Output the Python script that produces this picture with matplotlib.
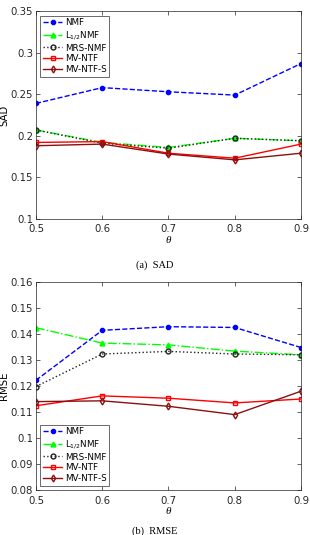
import matplotlib
matplotlib.use('Agg')
import matplotlib.pyplot as plt

# data
theta = [0.5, 0.6, 0.7, 0.8, 0.9]

sad_nmf = [0.239, 0.258, 0.253, 0.249, 0.287]
sad_l12 = [0.207, 0.192, 0.186, 0.197, 0.194]
sad_mrs = [0.207, 0.191, 0.185, 0.197, 0.194]
sad_mvntf = [0.192, 0.193, 0.179, 0.173, 0.190]
sad_mvntfs = [0.188, 0.190, 0.178, 0.171, 0.179]

rmse_nmf = [0.1222, 0.1414, 0.1428, 0.1425, 0.1348]
rmse_l12 = [0.1424, 0.1365, 0.1358, 0.1334, 0.1320]
rmse_mrs = [0.1198, 0.1323, 0.1333, 0.1323, 0.1320]
rmse_mvntf = [0.1124, 0.1162, 0.1153, 0.1135, 0.1150]
rmse_mvntfs = [0.1140, 0.1143, 0.1122, 0.1090, 0.1180]

labels = ['NMF', r'L$_{1/2}$NMF', 'MRS-NMF', 'MV-NTF', 'MV-NTF-S']
styles = [
    dict(color='#0000ff', ls='--', marker='.', ms=6),
    dict(color='#00ff00', ls='-.', marker='^', ms=3.5),
    dict(color='#222222', ls=':', marker='o', ms=3.5, mfc='none'),
    dict(color='#ff0000', ls='-', marker='s', ms=3, mfc='none'),
    dict(color='#8b1010', ls='-', marker='d', ms=3.5, mfc='none'),
]

plt.rcParams['font.family'] = ['DejaVu Sans']
plt.rcParams['mathtext.fontset'] = 'dejavusans'

fig = plt.figure(figsize=(3.1, 5.35), dpi=100)
ax1 = fig.add_axes([0.116, 0.591, 0.855, 0.388])
ax2 = fig.add_axes([0.116, 0.084, 0.855, 0.389])


def draw(ax, series, ylim, yticks, ylabel, legend_loc):
    for ys, lab, st in zip(series, labels, styles):
        ax.plot(theta, ys, label=lab, lw=1.0, **st)
    ax.set_xlim(0.5, 0.9)
    ax.set_ylim(*ylim)
    ax.set_xticks(theta)
    ax.set_xticklabels(['0.5', '0.6', '0.7', '0.8', '0.9'])
    ax.set_yticks(yticks)
    ax.set_yticklabels([('%g' % v) for v in yticks])
    ax.tick_params(direction='in', top=True, right=True, labelsize=7.3,
                   length=3, width=0.5, colors='#262626')
    ax.tick_params(axis='x', pad=4)
    ax.tick_params(axis='y', pad=2)
    for s in ax.spines.values():
        s.set_linewidth(0.5)
        s.set_color('#262626')
    ax.set_ylabel(ylabel, fontsize=7.3)
    ax.yaxis.set_label_coords(-0.102, 0.5)
    ax.set_xlabel('θ', fontsize=8, labelpad=1,
                  fontstyle='italic', family='Liberation Serif')
    leg = ax.legend(loc=legend_loc, fontsize=6.3, frameon=True, fancybox=False,
                    edgecolor='#262626', handlelength=2.2, handletextpad=0.3,
                    borderpad=0.3, labelspacing=0.2, borderaxespad=0.5)
    leg.get_frame().set_linewidth(0.6)


draw(ax1, [sad_nmf, sad_l12, sad_mrs, sad_mvntf, sad_mvntfs],
     (0.1, 0.35), [0.1, 0.15, 0.2, 0.25, 0.3, 0.35], 'SAD', 'upper left')
draw(ax2, [rmse_nmf, rmse_l12, rmse_mrs, rmse_mvntf, rmse_mvntfs],
     (0.08, 0.16), [0.08, 0.09, 0.1, 0.11, 0.12, 0.13, 0.14, 0.15, 0.16],
     'RMSE', 'lower left')

fig.text(0.5, 1 - 265 / 535, '(a)  SAD', ha='center', va='center',
         fontsize=7.5, family='Liberation Serif')
fig.text(0.5, 1 - 531 / 535, '(b)  RMSE', ha='center', va='center',
         fontsize=7.5, family='Liberation Serif')

fig.savefig('out.png', dpi=100)
